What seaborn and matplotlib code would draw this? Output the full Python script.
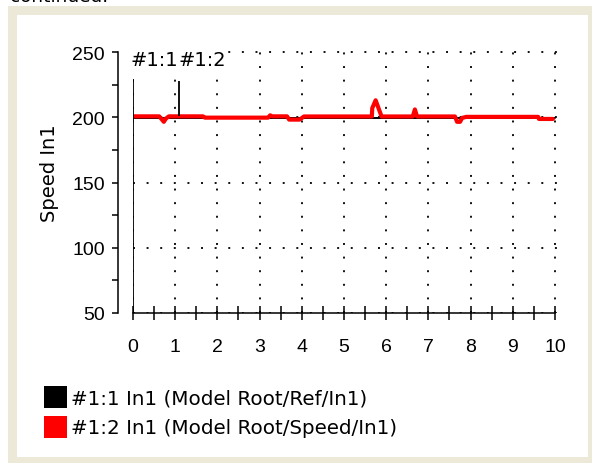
import matplotlib
matplotlib.use("Agg")
import matplotlib.pyplot as plt
import seaborn as sns
import numpy as np
from matplotlib.patches import Patch, Rectangle
from matplotlib.ticker import MultipleLocator

# Data
speed_t = [0.0, 0.62, 0.68, 0.73, 0.78, 0.85, 1.66, 1.70, 3.20, 3.25, 3.30, 3.65, 3.70,
           3.95, 4.05, 5.66, 5.67, 5.75, 5.89, 6.63, 6.68, 6.73, 7.63, 7.68, 7.75, 7.80,
           7.90, 9.60, 9.62, 9.95]
speed_v = [200.7, 200.7, 198.5, 196.5, 199.0, 200.7, 200.7, 199.7, 199.7, 201.5, 200.7,
           200.7, 198.2, 198.2, 200.6, 200.6, 207.0, 213.0, 200.6, 200.6, 206.0, 200.6,
           200.6, 196.5, 196.5, 199.5, 200.3, 200.3, 198.7, 198.7]
ref_t = [0.0, 10.0]
ref_v = [199.8, 199.8]

cursor_x = [0.0, 1.1]
cursor_top = [229.3, 228.0]
cursor_bottom = [50.0, 201.0]
cursor_labels = ["#1:1", "#1:2"]
cursor_label_x = [-0.05, 1.07]
cursor_label_y = 243.9

series_labels = ["#1:1 In1 (Model Root/Ref/In1)", "#1:2 In1 (Model Root/Speed/In1)"]
series_colors = ["#000000", "#ff0000"]

x_ticks = list(range(0, 11))
y_ticks = [50, 100, 150, 200, 250]

sns.set_style("ticks")
plt.rcParams["font.family"] = ["DejaVu Sans"]
plt.rcParams["text.color"] = "black"
plt.rcParams["axes.labelcolor"] = "black"
plt.rcParams["xtick.color"] = "black"
plt.rcParams["ytick.color"] = "black"

W, H = 592, 464
fig = plt.figure(figsize=(W / 100, H / 100), dpi=100)
fig.patch.set_facecolor("white")

# window frame
fig.add_artist(Rectangle((8 / W, 0), 584 / W, 1 - 7 / H, transform=fig.transFigure,
                         facecolor="#ece9d8", edgecolor="none", zorder=-2))
fig.add_artist(Rectangle((17 / W, 6 / H), 571 / W, 1 - 16 / H - 6 / H, transform=fig.transFigure,
                         facecolor="white", edgecolor="none", zorder=-1))
fig.text(10 / W, 1 - 2 / H, "continued:", fontsize=13.3, va="baseline", ha="left")

ax = fig.add_axes([133 / W, 150 / H, 424.1 / W, 263.6 / H])
ax.set_facecolor("none")

sns.lineplot(x=ref_t, y=ref_v, ax=ax, color=series_colors[0], linewidth=1.4,
             estimator=None, sort=False, zorder=2)
sns.lineplot(x=speed_t, y=speed_v, ax=ax, color=series_colors[1], linewidth=3.0,
             estimator=None, sort=False, zorder=3)

ax.vlines(cursor_x, cursor_bottom, cursor_top, color="black", linewidth=1.3, zorder=4)
for lab, lx in zip(cursor_labels, cursor_label_x):
    ax.text(lx, cursor_label_y, lab, fontsize=14, ha="left", va="center", zorder=5,
            bbox=dict(facecolor="white", edgecolor="none", pad=0))

ax.set_xlim(0, 10.05)
ax.set_ylim(50, 252)
ax.xaxis.set_major_locator(MultipleLocator(1))
ax.xaxis.set_minor_locator(MultipleLocator(0.5))
ax.yaxis.set_major_locator(MultipleLocator(50))
ax.yaxis.set_minor_locator(MultipleLocator(25))
ax.set_xticks(x_ticks)
ax.set_yticks(y_ticks)

sns.despine(ax=ax)
ax.spines["left"].set_position(("outward", 10.8))
ax.spines["left"].set_bounds(50, 250)
ax.spines["bottom"].set_bounds(0, 10)
for s in ["left", "bottom"]:
    ax.spines[s].set_linewidth(1.1)
    ax.spines[s].set_color("black")

ax.tick_params(axis="y", which="both", direction="out", length=4.3, width=1.1,
               pad=5, color="black", labelcolor="black")
ax.tick_params(axis="x", which="both", direction="inout", length=9.4, width=1.1,
               pad=13, color="black", labelcolor="black")
for lab in ax.get_xticklabels() + ax.get_yticklabels():
    lab.set_family(["Liberation Sans", "DejaVu Sans"])
    lab.set_fontsize(14)

ax.grid(True, which="major", color="#111111", linewidth=1.4, linestyle=(0, (1, 6)))

ax.set_xlabel("")
ax.set_ylabel("Speed In1", fontsize=14, color="black")
ax.yaxis.set_label_coords(-0.175, 0.533)

handles = [Patch(facecolor=c, edgecolor="none") for c in series_colors]
fig.legend(handles, series_labels, loc="upper left", bbox_to_anchor=(44.3 / W, 1 - 386.7 / H),
           frameon=False, fontsize=14.3, handlelength=1.16, handleheight=1.37,
           handletextpad=0.16, labelspacing=0.37, borderpad=0, borderaxespad=0,
           labelcolor="black")

fig.savefig("out.png", dpi=100)
